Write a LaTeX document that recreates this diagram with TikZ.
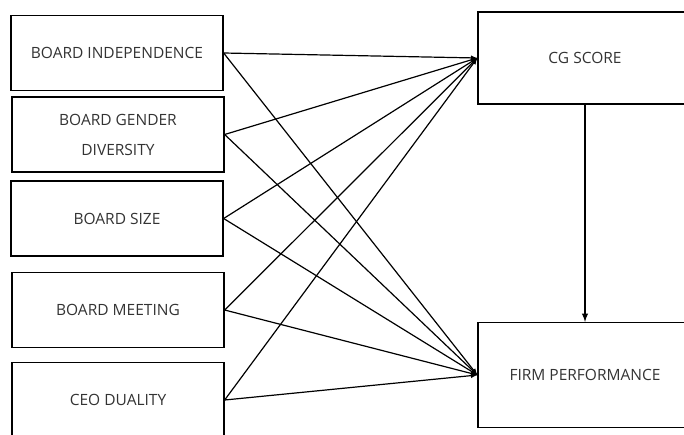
\documentclass[tikz,border=0pt]{standalone}
\usepackage{fontspec}
\setmainfont{Open Sans}

\begin{document}
\begin{tikzpicture}[x=1pt, y=-1pt, >=latex,
    box/.style={draw, line width=1.3pt, inner sep=0pt, align=center,
        text=black!80, font=\fontsize{15.5}{30}\selectfont},
    var/.style={box, minimum width=212pt, minimum height=75pt},
    res/.style={box, minimum width=214pt}]
    % Fix the page size
    \useasboundingbox (0,0) rectangle (684,434);
    \clip (0,0) rectangle (684,434);

    % Draw the board variables
    \node[var] (BI) at (117,53) {BOARD INDEPENDENCE};
    \node[var] (BGD) at (118,134.5) {BOARD GENDER\\DIVERSITY};
    \node[var] (BS) at (117,218.5) {BOARD SIZE};
    \node[var] (BM) at (118,310) {BOARD MEETING};
    \node[var] (CEO) at (118,400) {CEO DUALITY};

    % Draw the outcome boxes
    \node[res, minimum height=92pt] (CG) at (585,58) {CG SCORE};
    \node[res, minimum height=105pt] (FP) at (585,375) {FIRM PERFORMANCE};

    % Draw the links to the CG score
    \draw[->, line width=1.2pt] (BI.east) -- (CG.west);
    \draw[->, line width=1.2pt] (BGD.east) -- (CG.west);
    \draw[->, line width=1.2pt] (BS.east) -- (CG.west);
    \draw[->, line width=1.2pt] (BM.east) -- (CG.west);
    \draw[->, line width=1.2pt] (CEO.east) -- (CG.west);

    % Draw the links to the firm performance
    \draw[->, line width=1.2pt] (BI.east) -- (FP.west);
    \draw[->, line width=1.2pt] (BGD.east) -- (FP.west);
    \draw[->, line width=1.2pt] (BS.east) -- (FP.west);
    \draw[->, line width=1.2pt] (BM.east) -- (FP.west);
    \draw[->, line width=1.2pt] (CEO.east) -- (FP.west);

    % Draw the CG score to firm performance link
    \draw[->, line width=1.8pt] (CG.south) -- (FP.north);
\end{tikzpicture}
\end{document}
